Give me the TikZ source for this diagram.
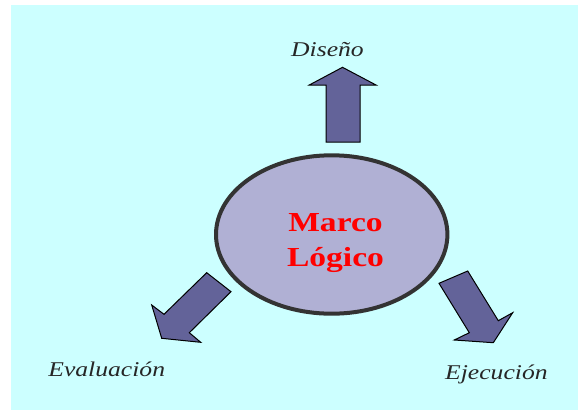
\documentclass[tikz,border=0pt]{standalone}
\usepackage{fontspec}
\setmainfont{Liberation Serif}[FakeStretch=1.22]
\usetikzlibrary{shapes.geometric}
\definecolor{bgcyan}{RGB}{204,255,255}
\definecolor{ellfill}{RGB}{176,176,212}
\definecolor{ellline}{RGB}{51,51,51}
\definecolor{arrfill}{RGB}{99,99,153}
\tikzset{
  blockarrow/.style={fill=arrfill, draw=black, line width=1pt, line join=miter},
  lbl/.style={anchor=base, inner sep=0pt, font=\fontsize{21}{24}\selectfont\itshape, text=black!85},
  title/.style={anchor=base, inner sep=0pt, font=\fontsize{27.5}{30}\selectfont\bfseries, text=red},
}
\begin{document}
\begin{tikzpicture}[x=1pt,y=-1pt]
\useasboundingbox (0,0) rectangle (578,410);
\fill[bgcyan] (11,5) rectangle (578,410);
% central ellipse
\node[ellipse, draw=ellline, fill=ellfill, line width=4pt, minimum width=231.4pt, minimum height=158.4pt, inner sep=0pt] (core) at (331.7,234.5) {};
\node[title] (t1) at (335.5,231.7) {Marco};
\node[title] (t2) at (335.5,266) {Lógico};
% arrows
\draw[blockarrow] (326,142) -- (326,85) -- (309.3,85) -- (342.5,67.3) -- (376,85) -- (360,85) -- (360,142) -- cycle;
\draw[blockarrow] (206.7,272.7) -- (231,291.7) -- (189.3,332.7) -- (200.7,342.3) -- (161.7,338.3) -- (151.7,305) -- (164,314.3) -- cycle;
\draw[blockarrow] (439,283.3) -- (467.7,271) -- (498.3,320.7) -- (512.7,312.7) -- (493.3,342.7) -- (454.3,340) -- (469.3,332.7) -- cycle;
% labels
\node[lbl] (dis) at (327.5,56) {Diseño};
\node[lbl] (eva) at (106.7,376) {Evaluación};
\node[lbl] (eje) at (496.4,379.3) {Ejecución};
\end{tikzpicture}
\end{document}
